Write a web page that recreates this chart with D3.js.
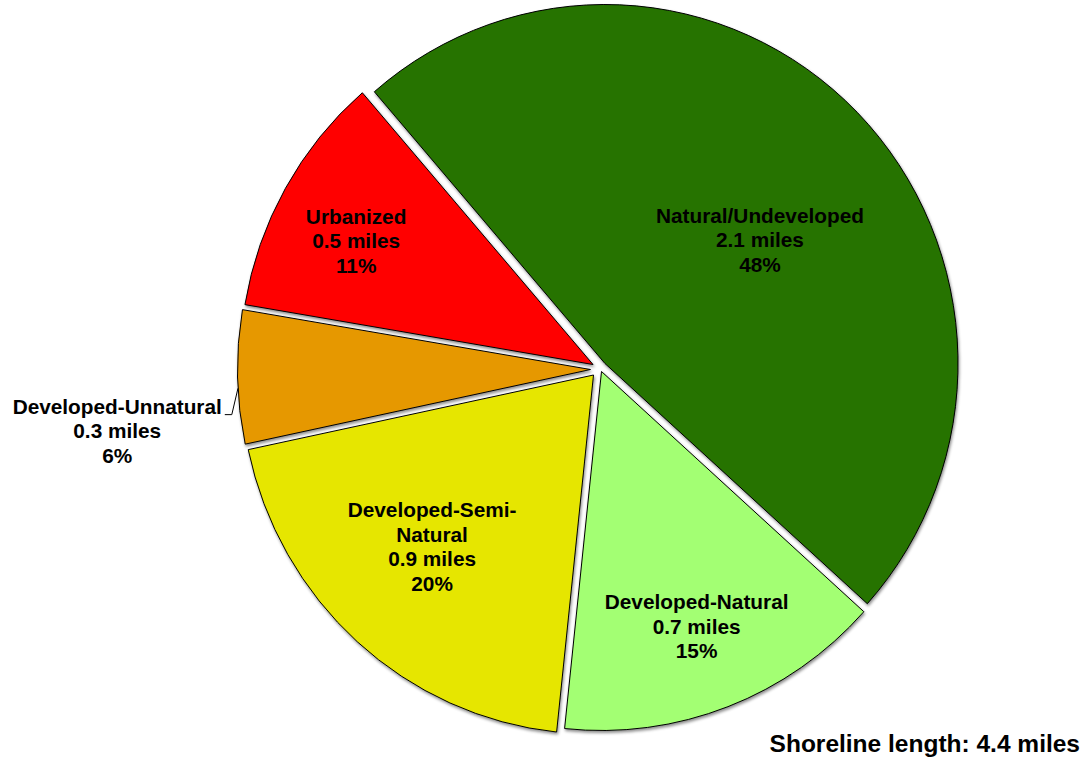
<!DOCTYPE html>
<html>
<head>
<meta charset="utf-8">
<script src="https://cdn.jsdelivr.net/npm/d3@7/dist/d3.min.js"></script>
<style>
  html, body { margin: 0; padding: 0; background: #ffffff; }
  svg { display: block; }
  text { font-family: "Liberation Sans", Arial, sans-serif; font-weight: bold; fill: #000; }
</style>
</head>
<body>
<svg id="chart" width="1083" height="757"></svg>
<script>
// Shoreline classes, in clockwise order from the first slice
const categories = ["Natural/Undeveloped", "Developed-Natural", "Developed-Semi-Natural", "Developed-Unnatural", "Urbanized"];
const nameLines = [["Natural/Undeveloped"], ["Developed-Natural"], ["Developed-Semi-", "Natural"], ["Developed-Unnatural"], ["Urbanized"]];
const miles = [2.1, 0.7, 0.9, 0.3, 0.5];
const percents = [48, 15, 20, 6, 11];
const colors = ["#267300", "#a3ff73", "#e6e600", "#e69800", "#ff0000"];
const totalLength = 4.4;

// Layout
const width = 1083, height = 757;
const cx = 597, cy = 369;
const rx = 353, ry = 359;                         // pie is drawn slightly taller than wide
const sliceShift = [[8, -5.5], [4.5, 2.5], [-3.5, 6], [-6.5, 0.5], [-4, -4.5]];  // exploded offsets (px)
const labelPolar = [                              // [angle nudge (deg), radius fraction] for each label block
  [6.5, 0.585], [-0.5, 0.77], [1.4, 0.68], [-6.0, 1.37], [-1.8, 0.77]
];
const fontSize = 20.8, lineHeight = 24.5;
const deg = Math.PI / 180;

const svg = d3.select("#chart");

const defs = svg.append("defs");
const shadow = defs.append("filter").attr("id", "shadow")
  .attr("x", "-5%").attr("y", "-5%").attr("width", "110%").attr("height", "110%");
shadow.append("feDropShadow").attr("dx", 1).attr("dy", 2).attr("stdDeviation", 1.5)
  .attr("flood-color", "#000").attr("flood-opacity", 0.45);

const pie = d3.pie().sort(null).value(d => d)
  .startAngle(-40.8 * deg).endAngle(319.2 * deg);
const arcs = pie(percents);
const arc = d3.arc().innerRadius(0).outerRadius(rx);

const g = svg.append("g").attr("transform", `translate(${cx},${cy})`);

g.selectAll("path.slice").data(arcs).join("path")
  .attr("class", "slice")
  .attr("transform", (a, i) => `translate(${sliceShift[i][0]},${sliceShift[i][1]}) scale(1,${ry / rx})`)
  .attr("d", arc)
  .attr("fill", (a, i) => colors[i])
  .attr("stroke", "#000")
  .attr("stroke-width", 1)
  .attr("vector-effect", "non-scaling-stroke")
  .attr("stroke-linejoin", "miter")
  .attr("filter", "url(#shadow)");

// Labels
const labels = g.selectAll("text.label").data(arcs).join("text")
  .attr("class", "label")
  .attr("text-anchor", "middle")
  .style("font-size", fontSize + "px");

function labelCenter(a, i) {
  const mid = (a.startAngle + a.endAngle) / 2 + labelPolar[i][0] * deg;
  const f = labelPolar[i][1];
  return [Math.sin(mid) * rx * f, -Math.cos(mid) * ry * f];
}

labels.each(function (a, i) {
  const [x, y] = labelCenter(a, i);
  const lines = nameLines[i].concat([miles[i] + " miles", percents[i] + "%"]);
  const top = y - (lines.length - 1) * lineHeight / 2;
  d3.select(this).selectAll("tspan").data(lines).join("tspan")
    .attr("x", x)
    .attr("y", (d, k) => top + k * lineHeight + fontSize * 0.36)
    .text(d => d);
});

// Leader line for the small slice labelled outside the pie
(function () {
  const i = 3, a = arcs[i];
  const o = sliceShift[i];
  const tipAngle = 267 * deg;
  const tip = [o[0] + Math.sin(tipAngle) * rx, o[1] - Math.cos(tipAngle) * ry];
  const [, ly] = labelCenter(a, i);
  const bb = labels.nodes()[i].getBBox();
  const firstBase = ly - lineHeight + fontSize * 0.36;
  const endX = bb.x + bb.width;
  g.append("path")
    .attr("d", d3.line()([[endX + 3, firstBase + 1], [endX + 10, firstBase + 1], tip]))
    .attr("fill", "none").attr("stroke", "#000").attr("stroke-width", 1);
})();

// Total shoreline note
svg.append("text")
  .attr("x", width - 3).attr("y", 752)
  .attr("text-anchor", "end")
  .style("font-size", "24.5px")
  .text(`Shoreline length: ${totalLength} miles`);
</script>
</body>
</html>
